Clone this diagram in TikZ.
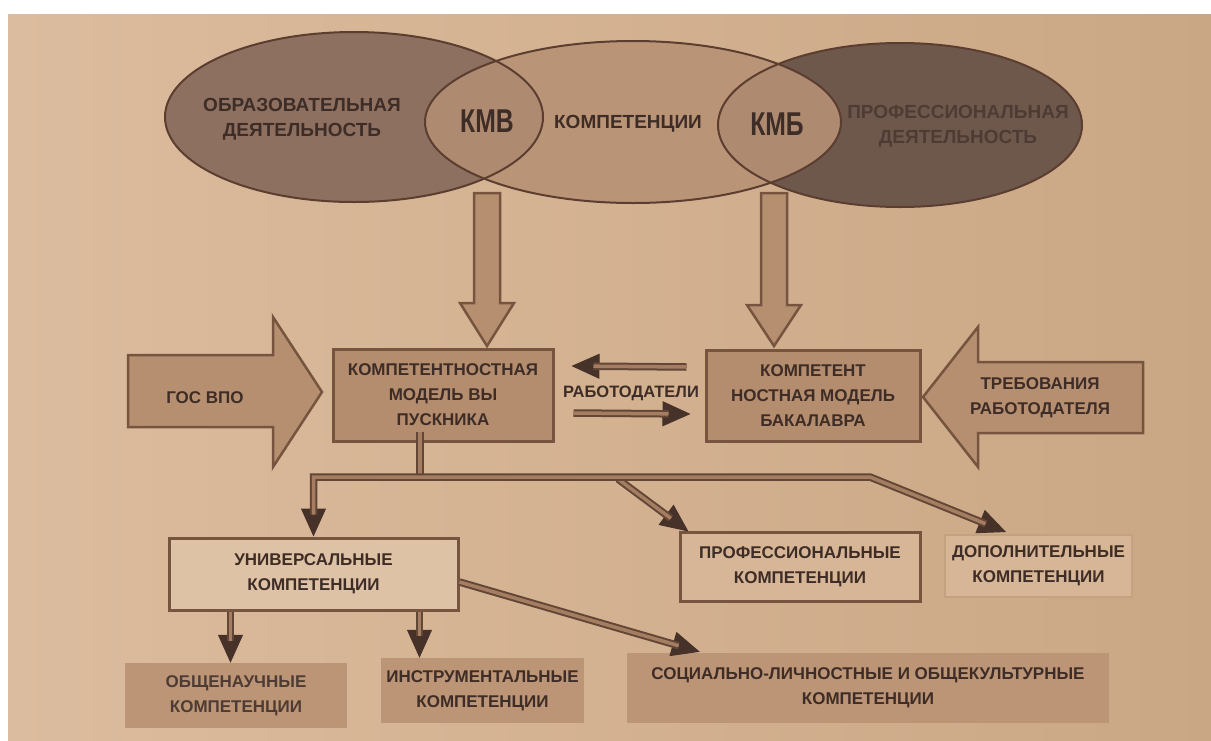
\documentclass[tikz,border=0pt]{standalone}
\usepackage{fontspec}
\usepackage{graphicx}
\setmainfont{Liberation Sans}
\usetikzlibrary{arrows.meta,calc}
\definecolor{bgL}{RGB}{220,188,158}
\definecolor{bgR}{RGB}{202,167,132}
\definecolor{ellL}{RGB}{142,112,96}
\definecolor{ellM}{RGB}{186,148,118}
\definecolor{ellR}{RGB}{110,88,76}
\definecolor{lensc}{RGB}{174,139,112}
\definecolor{edgec}{RGB}{92,62,48}
\definecolor{txtc}{RGB}{62,45,38}
\definecolor{fadetxt}{RGB}{78,60,52}
\definecolor{boxfill}{RGB}{180,140,110}
\definecolor{boxedge}{RGB}{118,84,62}
\definecolor{arrfill}{RGB}{182,143,113}
\definecolor{lightbox}{RGB}{222,194,166}
\definecolor{dopedge}{RGB}{196,162,128}
\definecolor{dopfill}{RGB}{214,182,150}
\definecolor{headc}{RGB}{70,50,40}
\definecolor{connin}{RGB}{165,126,98}
\definecolor{connout}{RGB}{98,70,54}
\definecolor{lowfill}{RGB}{188,148,118}
\begin{document}
\begin{tikzpicture}[x=1pt,y=-1pt,
  etext/.style={font=\bfseries\fontsize{19}{25}\selectfont, text=txtc, align=center, inner sep=0},
  lbl/.style={font=\bfseries\fontsize{17}{25}\selectfont, text=txtc, align=center, inner sep=0},
  bigtxt/.style={font=\bfseries\fontsize{33}{36}\selectfont, text=txtc, inner sep=0},
  fat/.style={fill=arrfill, draw=boxedge, line width=2.5pt, line join=miter},
  mainbox/.style={rectangle, fill=boxfill, draw=boxedge, line width=3pt, inner sep=0},
  whitebox/.style={rectangle, fill=lightbox, draw=boxedge, line width=3pt, inner sep=0},
  dopbox/.style={rectangle, fill=dopfill, draw=dopedge, line width=2pt, inner sep=0},
  lowbox/.style={rectangle, fill=lowfill, inner sep=0},
  tipline/.style={headc, line width=1pt, -{Triangle[length=28pt,width=25pt]}},
  tipline2/.style={headc, line width=1pt, {Triangle[length=28pt,width=25pt]}-{Triangle[length=28pt,width=25pt]}},
  conn/.style={connout, double=connin, double distance=3.5pt, line width=2pt, line join=miter},
]
\useasboundingbox (0,0) rectangle (1211,740);
\fill[white] (0,0) rectangle (1211,740);
\shade[left color=bgL, right color=bgR] (8,14) rectangle (1211,740);

% ---- ellipses
\coordinate (cL) at (354,117);
\coordinate (cM) at (633,122);
\coordinate (cR) at (900,125);
\fill[ellL] (cL) ellipse [x radius=189, y radius=85];
\fill[ellR] (cR) ellipse [x radius=182, y radius=82];
\fill[ellM] (cM) ellipse [x radius=208, y radius=81];
\begin{scope}
  \clip (cM) ellipse [x radius=208, y radius=81];
  \fill[lensc] (cL) ellipse [x radius=189, y radius=85];
  \fill[lensc] (cR) ellipse [x radius=182, y radius=82];
\end{scope}
\draw[edgec, line width=2pt] (cL) ellipse [x radius=189, y radius=85];
\draw[edgec, line width=2pt] (cR) ellipse [x radius=182, y radius=82];
\draw[edgec, line width=2pt] (cM) ellipse [x radius=208, y radius=81];

\node[etext] (obr) at (302,119) {ОБРАЗОВАТЕЛЬНАЯ\\ДЕЯТЕЛЬНОСТЬ};
\node[bigtxt] (kmv) at (487,121) {\scalebox{0.75}[1]{КМВ}};
\node[etext] (komp) at (628,124) {КОМПЕТЕНЦИИ};
\node[bigtxt] (kmb) at (777,124) {\scalebox{0.75}[1]{КМБ}};
\node[etext, text=fadetxt] (profd) at (958,126) {ПРОФЕССИОНАЛЬНАЯ\\ДЕЯТЕЛЬНОСТЬ};

% ---- middle row boxes
\node[mainbox, minimum width=220, minimum height=92] (box1) at (443,395) {};
\node[lbl] (box1t) at (box1) {КОМПЕТЕНТНОСТНАЯ\\МОДЕЛЬ ВЫ\\ПУСКНИКА};
\node[mainbox, minimum width=214, minimum height=91] (box2) at (813,396) {};
\node[lbl] (box2t) at (box2) {КОМПЕТЕНТ\\НОСТНАЯ МОДЕЛЬ\\БАКАЛАВРА};

% ---- fat down arrows from lenses
\coordinate (kmvbot) at (487,193);
\coordinate (kmbbot) at (774,193);
\draw[fat] (kmvbot) ++(-13,0) -- ++(26,0) -- ++(0,110) -- ++(14,0) -- ++(-27,43) -- ++(-27,-43) -- ++(14,0) -- cycle;
\draw[fat] (kmbbot) ++(-13,0) -- ++(26,0) -- ++(0,112) -- ++(14,0) -- ++(-27,41) -- ++(-27,-41) -- ++(14,0) -- cycle;

% ---- side arrows
\draw[fat] (128,355) -- (273,355) -- (273,317) -- (322,392) -- (273,467) -- (273,427) -- (128,427) -- cycle;
\node[lbl] (gos) at (205,398) {ГОС ВПО};
\draw[fat] (1143,362) -- (978,362) -- (978,327) -- (923,397) -- (978,467) -- (978,433) -- (1143,433) -- cycle;
\node[lbl] (treb) at (1040,398) {ТРЕБОВАНИЯ\\РАБОТОДАТЕЛЯ};

% ---- employers arrows
\node[lbl, font=\bfseries\fontsize{16.5}{20}\selectfont] (rab) at (631,393) {РАБОТОДАТЕЛИ};
\draw[tipline] ($(box2.west)+(-18,-29)$) -- ($(box1.east)+(17,-29)$);
\draw[conn, shorten >=22pt] ($(box2.west)+(-18,-29)$) -- ($(box1.east)+(17,-29)$);
\draw[tipline] ($(box1.east)+(19,18)$) -- ($(box2.west)+(-14,18)$);
\draw[conn, shorten >=22pt] ($(box1.east)+(19,18)$) -- ($(box2.west)+(-14,18)$);

% ---- lower boxes
\node[whitebox, minimum width=289, minimum height=72] (univ) at (313.5,574) {};
\node[lbl] (univt) at (univ) {УНИВЕРСАЛЬНЫЕ\\КОМПЕТЕНЦИИ};
\node[rectangle, fill=dopfill, draw=boxedge, line width=3pt, minimum width=240, minimum height=69] (profc) at (800,566.5) {};
\node[lbl] (profct) at (profc) {ПРОФЕССИОНАЛЬНЫЕ\\КОМПЕТЕНЦИИ};
\node[dopbox, minimum width=187, minimum height=62] (dop) at (1038.5,566) {};
\node[lbl] (dopt) at (dop) {ДОПОЛНИТЕЛЬНЫЕ\\КОМПЕТЕНЦИИ};
\node[lowbox, minimum width=222, minimum height=65] (obsh) at (236,695.5) {};
\node[lbl, text=fadetxt] (obsht) at (obsh) {ОБЩЕНАУЧНЫЕ\\КОМПЕТЕНЦИИ};
\node[lowbox, minimum width=203, minimum height=65] (instr) at (482.5,690.5) {};
\node[lbl] (instrt) at (instr) {ИНСТРУМЕНТАЛЬНЫЕ\\КОМПЕТЕНЦИИ};
\node[lowbox, minimum width=482, minimum height=70] (soc) at (868,688) {};
\node[lbl] (soct) at (soc) {СОЦИАЛЬНО-ЛИЧНОСТНЫЕ И ОБЩЕКУЛЬТУРНЫЕ\\КОМПЕТЕНЦИИ};

% ---- tree connectors
\coordinate (hub) at (420,477);
\coordinate (bend) at (870,477);
\coordinate (pstart) at (618,479);
\coordinate (proftip) at ($(profc.north west)+(10,1)$);
\coordinate (doptip) at ($(dop.north west)+(62,-2)$);
\draw[conn] ($(box1.south)+(-23,-11)$) -- (hub);
\draw[tipline] (pstart) -- (proftip);
\draw[conn, shorten >=22pt] (pstart) -- (proftip);
\draw[tipline2] (univ.north) -- (univ.north |- hub) -- (bend) -- (doptip);
\draw[conn, shorten <=22pt, shorten >=22pt] (univ.north) -- (univ.north |- hub) -- (bend) -- (doptip);

\coordinate (u1) at ($(univ.south west)+(63,0)$);
\coordinate (u2) at ($(univ.south west)+(252,0)$);
\coordinate (u3) at ($(univ.east)+(0,8)$);
\coordinate (soctip) at ($(soc.north west)+(73,-1)$);
\draw[tipline] (u1) -- (u1 |- obsh.north);
\draw[conn, shorten >=22pt] (u1) -- (u1 |- obsh.north);
\draw[tipline] (u2) -- (u2 |- instr.north);
\draw[conn, shorten >=22pt] (u2) -- (u2 |- instr.north);
\draw[tipline] (u3) -- (soctip);
\draw[conn, shorten >=22pt] (u3) -- (soctip);
\end{tikzpicture}
\end{document}
